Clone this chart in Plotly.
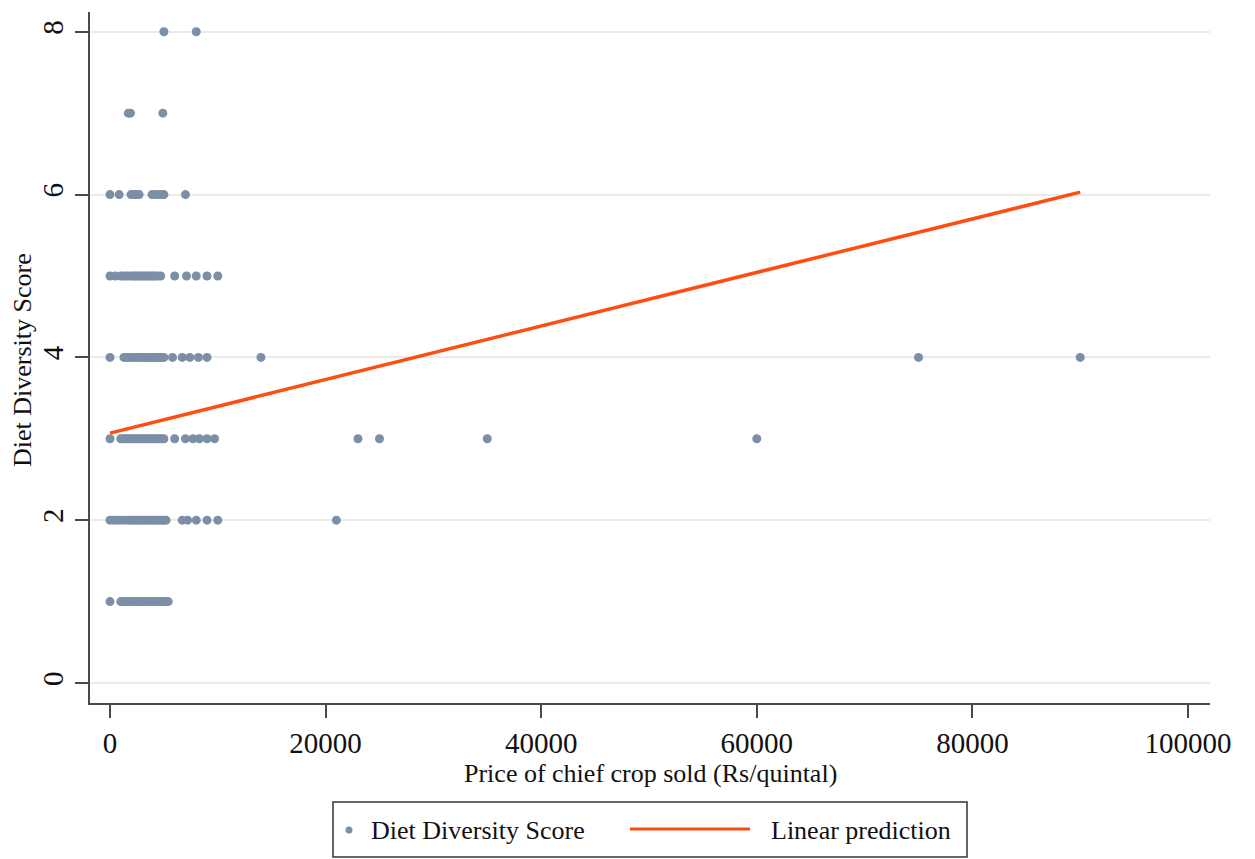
import plotly.graph_objects as go

# Price of chief crop sold (Rs/quintal) for households at each diet diversity score
price_dds1 = [0, 1000, 1200, 1500, 1700, 2000, 2200, 2500, 2800, 3000, 3200, 3500,
              3800, 4000, 4200, 4500, 4800, 5000, 5200, 5400]
price_dds2 = [0, 300, 600, 900, 1200, 1500, 1800, 2000, 2200, 2400, 2600, 2800, 3000,
              3200, 3400, 3600, 3800, 4000, 4200, 4400, 4600, 4800, 5000, 5200,
              6700, 7200, 8000, 9000, 10000, 21000]
price_dds3 = [0, 1000, 1200, 1400, 1600, 1800, 2000, 2200, 2400, 2600, 2800, 3000,
              3200, 3400, 3600, 3800, 4000, 4200, 4400, 4600, 4800, 5000,
              6000, 7000, 7700, 8300, 9000, 9700, 23000, 25000, 35000, 60000]
price_dds4 = [0, 1300, 1500, 1700, 2000, 2200, 2400, 2600, 2800, 3000, 3200, 3400,
              3600, 3800, 4000, 4200, 4400, 4600, 4800, 5000,
              5800, 6700, 7400, 8200, 9000, 14000, 75000, 90000]
price_dds5 = [0, 500, 1000, 1200, 1500, 1700, 2000, 2200, 2400, 2600, 2800, 3000,
              3200, 3400, 3600, 3800, 4000, 4200, 4400, 4700,
              6000, 7100, 8000, 9000, 10000]
price_dds6 = [0, 850, 1950, 2200, 2400, 2700, 3900, 4200, 4500, 4800, 5000, 7000]
price_dds7 = [1700, 1900, 4900]
price_dds8 = [5000, 8000]

price_by_score = {1: price_dds1, 2: price_dds2, 3: price_dds3, 4: price_dds4,
                  5: price_dds5, 6: price_dds6, 7: price_dds7, 8: price_dds8}

# Fitted linear prediction, evaluated at the ends of the observed price range
pred_x = [0, 90000]
pred_y = [3.07, 6.03]

x_ticks = [0, 20000, 40000, 60000, 80000, 100000]
y_ticks = [0, 2, 4, 6, 8]

POINT_COLOR = "#7b8fa7"
LINE_COLOR = "#ff4d12"
FONT = "Liberation Serif, Times New Roman, serif"
TEXT_COLOR = "#111111"

xs, ys = [], []
for score, prices in price_by_score.items():
    xs.extend(prices)
    ys.extend([score] * len(prices))

fig = go.Figure()
fig.add_trace(go.Scatter(
    x=xs, y=ys, mode="markers", name="Diet Diversity Score",
    marker=dict(color=POINT_COLOR, size=9, line=dict(width=0)),
))
fig.add_trace(go.Scatter(
    x=pred_x, y=pred_y, mode="lines", name="Linear prediction",
    line=dict(color=LINE_COLOR, width=3.5),
))

W, H = 1255, 859
L, R, T, B = 90, 45, 12, 156
pw, ph = W - L - R, H - T - B


def px_x(x):
    return (x - L) / pw


def px_y(y):
    return (H - B - y) / ph


axis_common = dict(
    showline=True, linecolor="#4a4a4a", linewidth=2,
    ticks="outside", ticklen=13, tickwidth=2, tickcolor="#4a4a4a",
    zeroline=False, mirror=False,
    tickfont=dict(family=FONT, size=29, color=TEXT_COLOR),
)

fig.update_layout(
    width=W, height=H,
    margin=dict(l=L, r=R, t=T, b=B),
    paper_bgcolor="white", plot_bgcolor="white",
    showlegend=False,
    font=dict(family=FONT, color=TEXT_COLOR),
    xaxis=dict(range=[-1855, 102040], tickvals=x_ticks,
               ticktext=[str(v) for v in x_ticks], showgrid=False,
               ticklabelstandoff=0, **axis_common),
    yaxis=dict(range=[-0.246, 8.243], tickvals=y_ticks,
               ticktext=[str(v) for v in y_ticks], tickangle=-90,
               showgrid=True, gridcolor="#ebebeb", gridwidth=1.5,
               ticklabelstandoff=0, **axis_common),
)


def label(text, x, y, anchor="center", angle=0):
    fig.add_annotation(text=text, xref="paper", yref="paper",
                       x=px_x(x), y=px_y(y), xanchor=anchor, yanchor="middle",
                       showarrow=False, textangle=angle,
                       font=dict(family=FONT, size=26, color=TEXT_COLOR))


# Axis titles
label("Price of chief crop sold (Rs/quintal)", 650, 773)
label("Diet Diversity Score", 22, 360, angle=-90)

# Legend box below the plot
fig.add_shape(type="rect", xref="paper", yref="paper",
              x0=px_x(333), x1=px_x(967), y0=px_y(857), y1=px_y(802),
              line=dict(color="#333333", width=1.5), fillcolor="white")
fig.add_shape(type="circle", xref="paper", yref="paper",
              xsizemode="pixel", ysizemode="pixel",
              xanchor=px_x(349), yanchor=px_y(830),
              x0=-3.5, x1=3.5, y0=-3.5, y1=3.5,
              line=dict(width=0), fillcolor=POINT_COLOR)
fig.add_shape(type="line", xref="paper", yref="paper",
              x0=px_x(630), x1=px_x(750), y0=px_y(829), y1=px_y(829),
              line=dict(color=LINE_COLOR, width=3))
label("Diet Diversity Score", 369, 830, anchor="left")
label("Linear prediction", 769, 830, anchor="left")

fig.write_html("out.html")
